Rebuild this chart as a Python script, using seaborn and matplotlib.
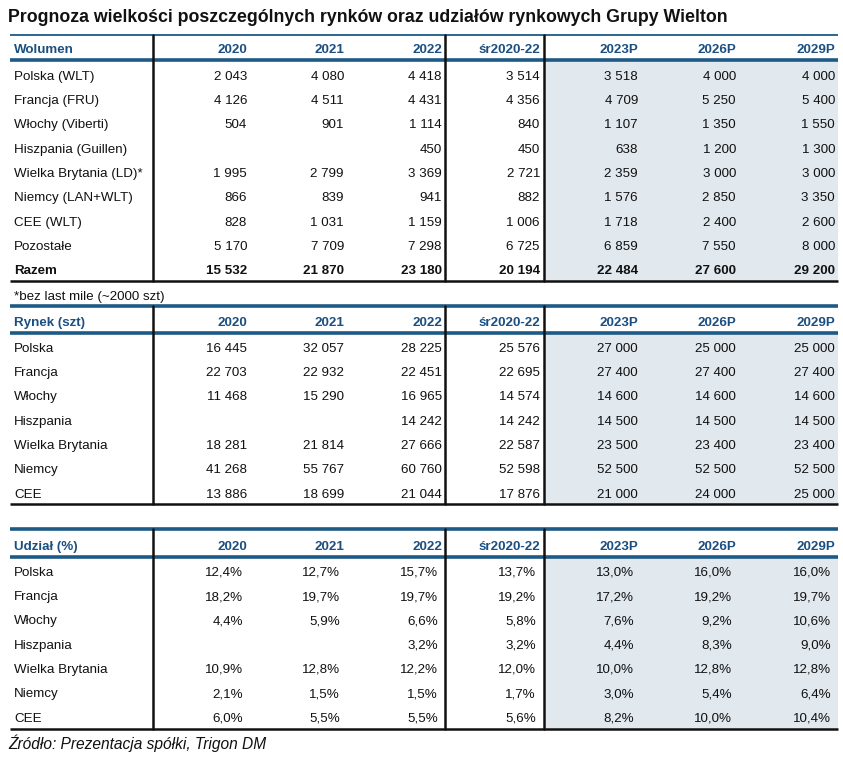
import numpy as np
import matplotlib
matplotlib.use("Agg")
import matplotlib.pyplot as plt
import seaborn as sns

sns.set_theme(style="white")
plt.rcParams['font.family'] = ['Liberation Sans', 'DejaVu Sans']
BODY_FONT = ['Liberation Sans', 'DejaVu Sans']

# ---------------- data ----------------
title = "Prognoza wielkości poszczególnych rynków oraz udziałów rynkowych Grupy Wielton"
columns = ["2020", "2021", "2022", "śr2020-22", "2023P", "2026P", "2029P"]

vol_header = "Wolumen"
vol_labels = ["Polska (WLT)", "Francja (FRU)", "Włochy (Viberti)", "Hiszpania (Guillen)",
              "Wielka Brytania (LD)*", "Niemcy (LAN+WLT)", "CEE (WLT)", "Pozostałe", "Razem"]
vol_polska = [2043, 4080, 4418, 3514, 3518, 4000, 4000]
vol_francja = [4126, 4511, 4431, 4356, 4709, 5250, 5400]
vol_wlochy = [504, 901, 1114, 840, 1107, 1350, 1550]
vol_hiszpania = [np.nan, np.nan, 450, 450, 638, 1200, 1300]
vol_wb = [1995, 2799, 3369, 2721, 2359, 3000, 3000]
vol_niemcy = [866, 839, 941, 882, 1576, 2850, 3350]
vol_cee = [828, 1031, 1159, 1006, 1718, 2400, 2600]
vol_pozostale = [5170, 7709, 7298, 6725, 6859, 7550, 8000]
vol_razem = [15532, 21870, 23180, 20194, 22484, 27600, 29200]
vol_note = "*bez last mile (~2000 szt)"

mkt_header = "Rynek (szt)"
mkt_labels = ["Polska", "Francja", "Włochy", "Hiszpania", "Wielka Brytania", "Niemcy", "CEE"]
mkt_polska = [16445, 32057, 28225, 25576, 27000, 25000, 25000]
mkt_francja = [22703, 22932, 22451, 22695, 27400, 27400, 27400]
mkt_wlochy = [11468, 15290, 16965, 14574, 14600, 14600, 14600]
mkt_hiszpania = [np.nan, np.nan, 14242, 14242, 14500, 14500, 14500]
mkt_wb = [18281, 21814, 27666, 22587, 23500, 23400, 23400]
mkt_niemcy = [41268, 55767, 60760, 52598, 52500, 52500, 52500]
mkt_cee = [13886, 18699, 21044, 17876, 21000, 24000, 25000]

shr_header = "Udział (%)"
shr_labels = ["Polska", "Francja", "Włochy", "Hiszpania", "Wielka Brytania", "Niemcy", "CEE"]
shr_polska = [12.4, 12.7, 15.7, 13.7, 13.0, 16.0, 16.0]
shr_francja = [18.2, 19.7, 19.7, 19.2, 17.2, 19.2, 19.7]
shr_wlochy = [4.4, 5.9, 6.6, 5.8, 7.6, 9.2, 10.6]
shr_hiszpania = [np.nan, np.nan, 3.2, 3.2, 4.4, 8.3, 9.0]
shr_wb = [10.9, 12.8, 12.2, 12.0, 10.0, 12.8, 12.8]
shr_niemcy = [2.1, 1.5, 1.5, 1.7, 3.0, 5.4, 6.4]
shr_cee = [6.0, 5.5, 5.5, 5.6, 8.2, 10.0, 10.4]

source = "Źródło: Prezentacja spółki, Trigon DM"

vol_rows = [vol_polska, vol_francja, vol_wlochy, vol_hiszpania, vol_wb, vol_niemcy,
            vol_cee, vol_pozostale, vol_razem]
mkt_rows = [mkt_polska, mkt_francja, mkt_wlochy, mkt_hiszpania, mkt_wb, mkt_niemcy, mkt_cee]
shr_rows = [shr_polska, shr_francja, shr_wlochy, shr_hiszpania, shr_wb, shr_niemcy, shr_cee]

# ---------------- style / layout ----------------
W, H = 843, 758
BLUE = "#1d5a86"
HEAD = "#1b4f82"
SHADE = "#e1e8ee"
TXT = "#111111"
FS = 9.6
BASE = 4.8  # baseline offset below row centre (px)
col_right = [247, 344, 442, 540, 638, 736, 835]
pct_shift = -4
vlines_x = [153, 445, 544]
x0, x1 = 10, 838
label_x = 14
row_h = 24.3


def fmt_int(v):
    if v is None or (isinstance(v, float) and np.isnan(v)):
        return ""
    return f"{int(v):,}".replace(",", " ")


def fmt_pct(v):
    if v is None or (isinstance(v, float) and np.isnan(v)):
        return ""
    return f"{v:.1f}%".replace(".", ",")


fig = plt.figure(figsize=(W / 100, H / 100), dpi=100)
ax = fig.add_axes([0, 0, 1, 1])
ax.set_xlim(0, W)
ax.set_ylim(H, 0)
ax.axis("off")

ax.text(8, 17 + 5.5, title, fontsize=12.8, fontweight="bold", color="#111111", va="baseline", ha="left")


def put(x, y, s, ha="left", **kw):
    ax.text(x, y + BASE, s, fontsize=FS, va="baseline", ha=ha, family=BODY_FONT, **kw)


def section(top, head_y, first_row_y, header, labels, rows, fmt, bottom, top_lw, shift=0, bold_last=False):
    hdr_line = head_y + 12
    ax.add_patch(plt.Rectangle((vlines_x[2], hdr_line), x1 - vlines_x[2], bottom - hdr_line,
                               facecolor=SHADE, edgecolor="none", zorder=0))
    ax.plot([x0, x1], [top, top], color=BLUE, lw=top_lw, solid_capstyle="butt", zorder=2)
    ax.plot([x0, x1], [hdr_line, hdr_line], color=BLUE, lw=2.6, solid_capstyle="butt", zorder=2)
    ax.plot([x0, x1], [bottom, bottom], color="#111111", lw=1.8, solid_capstyle="butt", zorder=2)
    for vx in vlines_x:
        ax.plot([vx, vx], [top, bottom], color="#111111", lw=1.8, zorder=3)
    put(label_x, head_y, header, fontweight="bold", color=HEAD)
    for c, xr in zip(columns, col_right):
        put(xr, head_y, c, ha="right", fontweight="bold", color=HEAD)
    for i, (lab, vals) in enumerate(zip(labels, rows)):
        y = first_row_y + i * row_h
        bold = bold_last and i == len(labels) - 1
        fw = "bold" if bold else "normal"
        put(label_x, y, lab, fontweight=fw, color=TXT)
        for v, xr in zip(vals, col_right):
            put(xr + shift, y, fmt(v), ha="right", fontweight=fw, color=TXT)


section(35, 48, 75, vol_header, vol_labels, vol_rows, fmt_int, 281, 1.3, bold_last=True)
put(label_x, 295, vol_note, color=TXT)
section(306, 321, 347, mkt_header, mkt_labels, mkt_rows, fmt_int, 504, 2.6)
section(529, 545, 571, shr_header, shr_labels, shr_rows, fmt_pct, 729, 2.6, shift=pct_shift)

ax.text(8, 744 + 5.5, source, fontsize=11.2, fontstyle="italic", color=TXT, va="baseline", ha="left")

fig.savefig("out.png", dpi=100)
